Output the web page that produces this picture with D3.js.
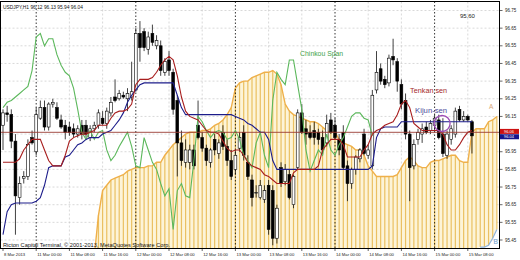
<!DOCTYPE html>
<html>
<head>
<meta charset="utf-8">
<script src="https://cdn.jsdelivr.net/npm/d3@7/dist/d3.min.js"></script>
<style>
  body { margin: 0; background: #fff; }
  svg { display: block; }
  text { font-family: "Liberation Sans", Arial, sans-serif; }
</style>
</head>
<body>
<svg id="chart" width="520" height="260"></svg>
<script>
// USDJPY H1, bar 0 = 8 Mar 2013 16:00, one value per hourly bar
const open = [
  96.10, 96.17, 96.16, 96.01, 95.69, 95.80, 95.81, 96.03, 95.95, 96.14,
  96.20, 96.09, 96.22, 96.20, 96.13, 96.10, 96.09, 96.08, 96.05, 96.10,
  96.10, 96.03, 96.08, 96.10, 96.14, 96.11, 96.17, 96.26, 96.25, 96.27,
  96.25, 96.26, 96.30, 96.62, 96.63, 96.53, 96.62, 96.55, 96.55, 96.40,
  96.47, 96.40, 96.24, 96.00, 95.89, 95.89, 95.96, 96.10, 96.03, 95.97,
  95.89, 96.02, 95.94, 96.06, 95.98, 95.90, 95.85, 95.97, 96.06, 95.89,
  95.79, 95.72, 95.69, 95.68, 95.76, 95.73, 95.46, 95.86, 95.78, 95.82,
  95.65, 95.86, 96.17, 96.08, 96.06, 96.07, 96.06, 96.03, 96.00, 96.13,
  96.10, 96.02, 96.06, 95.87, 95.77, 95.85, 95.91, 96.05, 95.93, 95.87,
  96.30, 96.42, 96.36, 96.34, 96.49, 96.46, 96.33, 96.24, 96.05, 95.87,
  96.02, 96.05, 96.09, 96.07, 96.10, 96.13, 96.05, 95.93, 96.02, 96.05,
  96.19, 96.13, 96.15, 96.12
];
const high = [
  96.19, 96.21, 96.19, 96.05, 95.81, 95.84, 96.02, 96.07, 96.20, 96.24,
  96.24, 96.23, 96.25, 96.23, 96.16, 96.13, 96.12, 96.11, 96.10, 96.13,
  96.13, 96.10, 96.12, 96.19, 96.18, 96.20, 96.26, 96.36, 96.30, 96.29,
  96.31, 96.46, 96.65, 96.69, 96.65, 96.63, 96.67, 96.61, 96.58, 96.48,
  96.52, 96.42, 96.27, 96.07, 96.02, 95.99, 95.99, 96.24, 96.06, 95.99,
  95.97, 96.05, 96.02, 96.10, 96.02, 95.96, 95.96, 96.06, 96.10, 95.93,
  95.82, 95.76, 95.79, 95.76, 95.79, 95.76, 95.65, 95.89, 95.88, 95.85,
  95.82, 96.19, 96.22, 96.13, 96.10, 96.12, 96.08, 96.07, 96.16, 96.17,
  96.14, 96.05, 96.10, 95.90, 95.86, 95.93, 95.97, 96.08, 95.99, 96.30,
  96.52, 96.45, 96.38, 96.50, 96.59, 96.48, 96.36, 96.28, 96.07, 96.02,
  96.08, 96.11, 96.12, 96.13, 96.16, 96.16, 96.14, 96.07, 96.10, 96.20,
  96.21, 96.18, 96.16, 96.13
];
const low = [
  95.96, 96.12, 95.97, 95.48, 95.65, 95.77, 95.79, 95.99, 95.93, 96.13,
  96.07, 96.07, 96.20, 96.13, 96.08, 96.02, 96.04, 96.03, 96.03, 96.02,
  96.03, 96.01, 96.06, 96.08, 96.10, 96.08, 96.15, 96.23, 96.24, 96.25,
  96.18, 96.24, 96.29, 96.46, 96.52, 96.50, 96.55, 96.53, 96.38, 96.38,
  96.38, 96.16, 95.81, 95.87, 95.86, 95.85, 95.85, 96.02, 95.95, 95.87,
  95.86, 95.93, 95.91, 95.96, 95.87, 95.79, 95.82, 95.95, 95.90, 95.79,
  95.64, 95.69, 95.68, 95.66, 95.48, 95.42, 95.43, 95.75, 95.76, 95.68,
  95.63, 95.85, 96.05, 95.99, 96.02, 95.99, 95.99, 95.93, 95.98, 96.05,
  96.02, 95.93, 95.85, 95.67, 95.74, 95.82, 95.89, 95.93, 95.91, 95.85,
  96.28, 96.33, 96.31, 96.32, 96.44, 96.29, 96.19, 96.02, 95.67, 95.85,
  95.99, 96.00, 96.05, 96.05, 96.07, 96.02, 95.92, 95.91, 95.99, 96.03,
  96.12, 96.12, 96.12, 95.94
];
const close = [
  96.17, 96.16, 96.01, 95.70, 95.77, 95.81, 95.99, 96.00, 96.16, 96.20,
  96.09, 96.22, 96.23, 96.14, 96.09, 96.06, 96.06, 96.05, 96.08, 96.05,
  96.05, 96.08, 96.10, 96.17, 96.11, 96.18, 96.23, 96.24, 96.28, 96.26,
  96.28, 96.29, 96.62, 96.54, 96.54, 96.60, 96.57, 96.58, 96.41, 96.46,
  96.41, 96.19, 96.00, 95.90, 95.96, 95.96, 95.87, 96.03, 95.97, 95.90,
  95.96, 95.96, 96.00, 95.98, 95.90, 95.81, 95.93, 96.03, 95.93, 95.81,
  95.69, 95.72, 95.76, 95.73, 95.51, 95.46, 95.63, 95.77, 95.85, 95.69,
  95.81, 96.17, 96.06, 96.05, 96.03, 96.03, 96.02, 95.96, 96.11, 96.06,
  96.03, 95.96, 95.86, 95.77, 95.85, 95.92, 95.96, 95.94, 95.96, 96.27,
  96.40, 96.35, 96.33, 96.48, 96.47, 96.35, 96.22, 96.05, 95.86, 95.99,
  96.06, 96.08, 96.06, 96.11, 96.14, 96.03, 95.94, 96.05, 96.08, 96.18,
  96.13, 96.15, 96.13, 96.04
];

const tenkan = [
  95.89, 95.89, 95.89, 95.89, 95.91, 95.96, 95.99, 96.02, 96.02, 96.02,
  95.96, 95.90, 95.87, 95.87, 95.87, 95.93, 96.01, 96.03, 96.04, 96.05,
  96.05, 96.06, 96.07, 96.10, 96.10, 96.10, 96.14, 96.17, 96.18, 96.18,
  96.19, 96.22, 96.33, 96.36, 96.36, 96.36, 96.37, 96.40, 96.44, 96.47,
  96.49, 96.47, 96.38, 96.26, 96.18, 96.15, 96.14, 96.13, 96.10, 96.07,
  96.06, 96.06, 96.05, 96.01, 95.97, 95.95, 95.96, 95.96, 95.93, 95.89,
  95.87, 95.86, 95.85, 95.82, 95.81, 95.79, 95.77, 95.77, 95.77, 95.77,
  95.83, 95.85, 95.85, 95.85, 95.85, 95.85, 95.87, 95.96, 95.99, 96.02,
  96.02, 96.02, 95.99, 95.92, 95.92, 95.92, 95.92, 95.96, 95.99, 96.05,
  96.07, 96.08, 96.10, 96.11, 96.12, 96.16, 96.22, 96.24, 96.20, 96.11,
  96.09, 96.07, 96.07, 96.07, 96.07, 96.07, 96.05, 95.99, 95.96, 95.96,
  95.99, 96.03, 96.06, 96.07
];
const kijun = [
  95.48, 95.61, 95.65, 95.66, 95.66, 95.66, 95.66, 95.66, 95.67, 95.69,
  95.76, 95.86, 95.87, 95.87, 95.87, 95.92, 95.93, 95.96, 95.99, 96.00,
  96.02, 96.03, 96.03, 96.03, 96.05, 96.06, 96.07, 96.10, 96.13, 96.17,
  96.23, 96.27, 96.30, 96.33, 96.34, 96.34, 96.34, 96.34, 96.34, 96.34,
  96.34, 96.34, 96.27, 96.20, 96.16, 96.16, 96.16, 96.16, 96.16, 96.16,
  96.16, 96.16, 96.16, 96.16, 96.16, 96.16, 96.15, 96.14, 96.13, 96.11,
  96.10, 96.08, 96.06, 96.06, 96.02, 95.90, 95.85, 95.85, 95.85, 95.85,
  95.85, 95.85, 95.85, 95.85, 95.85, 95.85, 95.85, 95.85, 95.85, 95.85,
  95.85, 95.85, 95.85, 95.85, 95.85, 95.85, 95.85, 95.85, 95.85, 95.87,
  96.03, 96.08, 96.09, 96.09, 96.09, 96.09, 96.12, 96.12, 96.12, 96.12,
  96.12, 96.12, 96.12, 96.12, 96.12, 96.12, 96.12, 96.12, 96.12, 96.12,
  96.12, 96.12, 96.12, 96.12
];
// lagging span, plotted from bar 0 to bar 89
const chinkou = [
  96.20, 96.23, 96.24, 96.26, 96.28, 96.30, 96.32, 96.41, 96.60, 96.62,
  96.55, 96.59, 96.59, 96.50, 96.44, 96.40, 96.38, 96.31, 96.19, 96.06,
  96.02, 96.07, 96.02, 96.06, 96.07, 95.96, 95.90, 95.93, 95.98, 96.02,
  96.06, 95.98, 95.87, 95.86, 96.03, 95.96, 95.89, 95.85, 95.77, 95.70,
  95.74, 95.51, 95.73, 95.77, 95.70, 95.69, 95.90, 96.15, 96.12, 96.07,
  96.03, 96.06, 96.07, 96.06, 96.02, 96.03, 96.07, 96.02, 95.93, 95.90,
  95.86, 96.00, 96.06, 95.93, 95.86, 96.24, 96.40, 96.36, 96.33, 96.47,
  96.47, 96.33, 96.19, 95.96, 95.84, 95.90, 95.96, 95.93, 96.05, 95.96,
  95.93, 95.99, 96.03, 96.09, 96.15, 96.17, 96.17, 96.14, 96.13, 96.04
];
// leading spans, bars 0..119 (null = below the visible range)
const senkouA = [
  null, null, null, null, null, null, null, null, null, null,
  null, null, null, null, null, null, null, null, null, null,
  null, null, 95.36, 95.59, 95.73, 95.76, 95.79, 95.80, 95.81, 95.82,
  95.84, 95.85, 95.86, 95.86, 95.86, 95.87, 95.87, 95.89, 95.89, 95.93,
  95.96, 95.99, 96.01, 96.03, 96.05, 96.06, 96.06, 96.06, 96.07, 96.07,
  96.08, 96.10, 96.11, 96.13, 96.16, 96.20, 96.31, 96.34, 96.35, 96.35,
  96.37, 96.38, 96.39, 96.40, 96.40, 96.41, 96.39, 96.33, 96.22, 96.18,
  96.16, 96.15, 96.14, 96.13, 96.12, 96.12, 96.11, 96.09, 96.07, 96.06,
  96.06, 96.02, 96.00, 95.99, 95.98, 95.96, 95.96, 95.93, 95.87, 95.84,
  95.81, 95.81, 95.81, 95.81, 95.81, 95.82, 95.86, 95.90, 95.92, 95.90,
  95.87, 95.86, 95.86, 95.89, 95.90, 95.90, 95.91, 95.92, 95.93, 95.93,
  95.90, 95.89, 95.89, 96.06, 96.08, 96.08, 96.08, 96.12, 96.13, 96.15
];
const senkouB = [
  null, null, null, null, null, null, null, null, null, null,
  null, null, null, null, null, null, null, null, null, null,
  null, null, null, null, null, null, null, null, null, null,
  null, null, null, null, null, null, null, null, null, null,
  null, null, null, null, null, null, null, null, null, null,
  null, null, null, null, null, null, null, null, null, null,
  null, null, null, null, null, null, null, null, null, null,
  null, null, null, null, null, null, null, null, null, null,
  null, null, null, null, null, null, null, null, null, null,
  null, null, null, null, null, null, null, null, null, null,
  null, null, null, null, null, null, null, null, null, null,
  null, null, null, null, null, 95.41, 95.41, 95.42, 95.46, 95.51
];

const priceTicks = [96.75, 96.65, 96.55, 96.45, 96.35, 96.25, 96.15, 96.05,
                    95.95, 95.85, 95.75, 95.65, 95.55, 95.45];
const timeBars = [0, 8, 16, 24, 32, 40, 48, 56, 64, 72, 80, 88, 96, 104, 112];
const timeLabels = ["8 Mar 2013", "11 Mar 00:00", "11 Mar 08:00", "11 Mar 16:00",
  "12 Mar 00:00", "12 Mar 08:00", "12 Mar 16:00", "13 Mar 00:00", "13 Mar 08:00",
  "13 Mar 16:00", "14 Mar 00:00", "14 Mar 08:00", "14 Mar 16:00", "15 Mar 00:00",
  "15 Mar 08:00"];
const daySeparators = [8, 32, 56, 80, 104];
const askPrice = 96.06, bidPrice = 96.04;

const svg = d3.select('#chart');
const plot = { left: 0.5, top: 1.5, right: 499.5, bottom: 248.5 };

const x = d3.scaleLinear().domain([0, 119]).range([3, 496.85]);
const y = d3.scaleLinear().domain([95.45, 96.75]).range([240, 10.5]);

svg.append('rect').attr('width', 520).attr('height', 260).attr('fill', '#fff');

svg.append('defs').append('clipPath').attr('id', 'plotClip')
  .append('rect')
  .attr('x', plot.left).attr('y', plot.top)
  .attr('width', plot.right - plot.left).attr('height', plot.bottom - plot.top);

const g = svg.append('g').attr('clip-path', 'url(#plotClip)');

// grid
g.selectAll('line.hgrid').data(priceTicks).enter().append('line')
  .attr('x1', plot.left).attr('x2', plot.right)
  .attr('y1', d => y(d)).attr('y2', d => y(d))
  .attr('stroke', '#c8c8c8').attr('stroke-width', 0.7)
  .attr('stroke-dasharray', '2,2');

g.selectAll('line.vgrid').data(timeBars.filter(b => b > 0 && !daySeparators.includes(b)))
  .enter().append('line')
  .attr('x1', d => x(d)).attr('x2', d => x(d))
  .attr('y1', plot.top).attr('y2', plot.bottom)
  .attr('stroke', '#c8c8c8').attr('stroke-width', 0.7)
  .attr('stroke-dasharray', '2,2');

// cloud
const cloudBars = d3.range(senkouA.length).filter(i => senkouA[i] != null);
const cloudBase = i => senkouB[i] != null ? y(senkouB[i]) : plot.bottom;

g.append('path')
  .datum(cloudBars)
  .attr('d', d3.area().x(i => x(i)).y0(cloudBase).y1(i => y(senkouA[i])))
  .attr('fill', '#fdf4d8');

g.selectAll('line.stripe').data(cloudBars).enter().append('line')
  .attr('x1', i => x(i)).attr('x2', i => x(i))
  .attr('y1', i => y(senkouA[i])).attr('y2', cloudBase)
  .attr('stroke', '#eac062').attr('stroke-width', 1.2);

const lineOf = arr => d3.line()
  .defined(i => arr[i] != null)
  .x(i => x(i)).y(i => y(arr[i]));

g.append('path')
  .datum(d3.range(senkouA.length))
  .attr('d', lineOf(senkouA))
  .attr('fill', 'none').attr('stroke', '#efb04a').attr('stroke-width', 1.4);

g.append('path')
  .datum(d3.range(senkouB.length))
  .attr('d', lineOf(senkouB))
  .attr('fill', 'none').attr('stroke', '#8fb4dc').attr('stroke-width', 1.2);

// day separators
g.selectAll('line.sep').data(daySeparators).enter().append('line')
  .attr('x1', d => x(d)).attr('x2', d => x(d))
  .attr('y1', plot.top).attr('y2', plot.bottom)
  .attr('stroke', '#000').attr('stroke-width', 0.8)
  .attr('stroke-dasharray', '1.5,2');

// candles
const bars = d3.range(close.length);
const candle = g.selectAll('g.candle').data(bars).enter().append('g');

candle.append('line')
  .attr('x1', i => x(i)).attr('x2', i => x(i))
  .attr('y1', i => y(high[i])).attr('y2', i => y(low[i]))
  .attr('stroke', '#111').attr('stroke-width', 0.8);

candle.append('rect')
  .attr('x', i => x(i) - 1.4)
  .attr('width', 2.8)
  .attr('y', i => y(Math.max(open[i], close[i])))
  .attr('height', i => Math.max(0.8, Math.abs(y(open[i]) - y(close[i]))))
  .attr('fill', i => close[i] >= open[i] ? '#fff' : '#000')
  .attr('stroke', '#000').attr('stroke-width', 0.6);

// ichimoku lines
g.append('path').datum(d3.range(chinkou.length))
  .attr('d', lineOf(chinkou))
  .attr('fill', 'none').attr('stroke', '#5cb85c').attr('stroke-width', 1.1);

g.append('path').datum(d3.range(kijun.length))
  .attr('d', lineOf(kijun))
  .attr('fill', 'none').attr('stroke', '#1c1c8a').attr('stroke-width', 1.1);

g.append('path').datum(d3.range(tenkan.length))
  .attr('d', lineOf(tenkan))
  .attr('fill', 'none').attr('stroke', '#a81e1e').attr('stroke-width', 1.1);

// ask line
g.append('line')
  .attr('x1', plot.left).attr('x2', plot.right)
  .attr('y1', y(askPrice)).attr('y2', y(askPrice))
  .attr('stroke', '#9a3b32').attr('stroke-width', 0.9);

// annotations
const note = (text, bar, price, color, size, len) => {
  const t = svg.append('text')
    .attr('x', x(bar)).attr('y', y(price))
    .attr('fill', color).attr('font-size', size).text(text);
  if (len) t.attr('textLength', len).attr('lengthAdjust', 'spacingAndGlyphs');
  return t;
};
note('Chinkou Span', 71.6, 96.49, '#3f9f4a', 6.8, 43);
note('Tenkan sen', 98.1, 96.28, '#a52a2a', 7, 37);
note('Kijun-sen', 99.3, 96.17, '#4a4a9a', 7, 32);
note('A', 117.1, 96.19, '#d8a878', 6.5);
note('B', 118.2, 95.43, '#6a9ccc', 6.5);
note('95.60', 110.1, 96.71, '#222', 6, 15);

svg.append('ellipse')
  .attr('cx', x(105.8)).attr('cy', y(96.11))
  .attr('rx', 8).attr('ry', 8)
  .attr('fill', 'none').attr('stroke', '#9c4cb4').attr('stroke-width', 1.3);

// frame
svg.append('rect')
  .attr('x', plot.left).attr('y', plot.top)
  .attr('width', plot.right - plot.left).attr('height', plot.bottom - plot.top)
  .attr('fill', 'none').attr('stroke', '#000').attr('stroke-width', 1);

// title and copyright
svg.append('text').attr('x', 3).attr('y', 8.5).attr('font-size', 4.8).attr('fill', '#111')
  .attr('textLength', 80).attr('lengthAdjust', 'spacingAndGlyphs')
  .text('USDJPY,H1  96.12 96.13 95.94 96.04');
svg.append('text').attr('x', 3).attr('y', 247).attr('font-size', 5).attr('fill', '#111')
  .attr('textLength', 167).attr('lengthAdjust', 'spacingAndGlyphs')
  .text('Ricton Capital Terminal, \u00a9 2001-2013, MetaQuotes Software Corp.');

// price axis (the label under the price boxes is hidden, as in the terminal)
svg.selectAll('line.ptick').data(priceTicks).enter().append('line')
  .attr('x1', plot.right).attr('x2', plot.right + 3)
  .attr('y1', d => y(d)).attr('y2', d => y(d))
  .attr('stroke', '#000').attr('stroke-width', 0.6);
svg.selectAll('text.plabel')
  .data(priceTicks.filter(p => Math.abs(p - askPrice) > 0.04))
  .enter().append('text')
  .attr('x', 505).attr('y', d => y(d) + 1.6)
  .attr('font-size', 4.5).attr('fill', '#222')
  .text(d => d.toFixed(2));

[[askPrice, '#cc1111', -0.9], [bidPrice, '#14148c', 0.9]].forEach(([p, c, dy]) => {
  const cy = y(p) + dy;
  svg.append('rect').attr('x', 500).attr('y', cy - 2.5).attr('width', 19).attr('height', 5)
    .attr('fill', c);
  svg.append('text').attr('x', 504).attr('y', cy + 1.4).attr('font-size', 4)
    .attr('fill', '#fff').text(p.toFixed(2));
});

// time axis
svg.selectAll('line.ttick').data(timeBars).enter().append('line')
  .attr('x1', d => x(d)).attr('x2', d => x(d))
  .attr('y1', plot.bottom).attr('y2', plot.bottom + 2.5)
  .attr('stroke', '#000').attr('stroke-width', 0.6);
svg.selectAll('text.tlabel').data(timeBars).enter().append('text')
  .attr('x', d => x(d) + 1).attr('y', 255.5)
  .attr('font-size', 4.2).attr('fill', '#222')
  .text((d, k) => timeLabels[k]);
</script>
</body>
</html>
